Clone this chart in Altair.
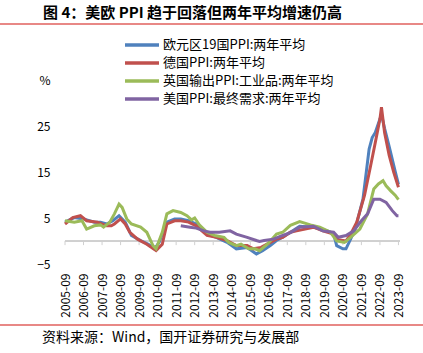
import altair as alt
import pandas as pd

FONT = "Noto Sans CJK SC"
TITLE = "图 4：美欧 PPI 趋于回落但两年平均增速仍高"
SOURCE = "资料来源：Wind，国开证券研究与发展部"

series_names = ["欧元区19国PPI:两年平均", "德国PPI:两年平均",
                "英国输出PPI:工业品:两年平均", "美国PPI:最终需求:两年平均"]
series_colors = ["#4F81BD", "#C0504D", "#9BBB59", "#8064A2"]

eu_dates = ["2005-09", "2006-03", "2006-09", "2007-04", "2007-08", "2007-12", "2008-04", "2008-08",
            "2008-12", "2009-04", "2009-10", "2010-03", "2010-07", "2010-10", "2011-03", "2011-08",
            "2011-12", "2012-05", "2012-10", "2013-05", "2013-11", "2014-06", "2014-12", "2015-07",
            "2016-01", "2016-05", "2016-10", "2017-02", "2017-06", "2017-11", "2018-05", "2019-02",
            "2019-11", "2020-03", "2020-05", "2020-09", "2020-11", "2021-02", "2021-05", "2021-10",
            "2022-02", "2022-04", "2022-06", "2022-09", "2022-10", "2022-12", "2023-03", "2023-07",
            "2023-09"]
eu_vals = [4.1, 5.1, 4.8, 4.1, 4.1, 3.7, 4.4, 5.5,
           4.1, 1.2, 0.1, -0.7, -1.7, -0.3, 4.1, 4.8,
           4.8, 4.4, 3.7, 1.5, 0.8, -0.3, -1.7, -1.4,
           -2.8, -2.1, -1.0, 0.1, 0.8, 1.9, 3.2, 3.0,
           2.2, 1.5, -1.0, -1.7, -1.7, 0.4, 2.6, 9.1,
           20.0, 22.5, 23.6, 26.5, 27.5, 24.5, 20.5, 15.0,
           12.3]

de_dates = ["2005-09", "2006-02", "2006-07", "2006-11", "2007-06", "2007-12", "2008-03", "2008-05",
            "2008-09", "2008-12", "2009-03", "2009-08", "2010-02", "2010-08", "2010-12", "2011-03",
            "2011-08", "2011-12", "2012-05", "2012-10", "2013-05", "2013-11", "2014-06", "2014-12",
            "2015-07", "2015-11", "2016-04", "2016-10", "2017-02", "2017-06", "2017-11", "2018-03",
            "2019-02", "2019-08", "2020-03", "2020-06", "2020-11", "2021-02", "2021-06", "2021-11",
            "2022-03", "2022-06", "2022-09", "2022-10", "2022-12", "2023-03", "2023-06", "2023-09"]
de_vals = [3.7, 5.1, 5.5, 4.4, 4.1, 3.3, 3.3, 3.7,
           4.8, 3.7, 1.9, 0.4, -0.7, -2.1, -0.7, 3.7,
           4.4, 4.4, 4.1, 3.3, 1.2, 0.8, 0.1, -1.0,
           -1.0, -1.7, -1.4, -0.3, 0.4, 0.8, 1.9, 2.2,
           3.0, 2.2, 1.5, 0.3, 0.0, 1.5, 4.1, 9.9,
           16.4, 21.4, 26.5, 29.1, 23.6, 18.6, 14.9, 11.7]

uk_dates = ["2005-09", "2006-03", "2006-08", "2006-11", "2007-04", "2007-08", "2007-10", "2008-02",
            "2008-05", "2008-08", "2008-10", "2009-01", "2009-04", "2009-10", "2010-02", "2010-06",
            "2010-08", "2010-12", "2011-03", "2011-07", "2011-12", "2012-04", "2012-07", "2012-09",
            "2012-12", "2013-05", "2013-10", "2014-04", "2014-07", "2014-12", "2015-03", "2015-08",
            "2015-12", "2016-03", "2016-08", "2016-11", "2017-02", "2017-06", "2017-11", "2018-05",
            "2018-12", "2019-06", "2020-01", "2020-05", "2020-10", "2021-02", "2021-08", "2022-01",
            "2022-05", "2022-08", "2022-11", "2023-01", "2023-04", "2023-07", "2023-09"]
uk_vals = [4.4, 4.1, 4.4, 2.6, 3.3, 3.5, 3.0, 4.1,
           5.9, 8.0, 7.3, 4.8, 3.7, 3.0, 1.9, -1.0,
           -1.7, 1.9, 5.9, 6.6, 6.2, 5.5, 4.6, 5.0,
           3.5, 1.9, 1.2, 0.8, -0.3, -1.0, -0.7, -1.7,
           -1.7, -2.1, -0.7, 0.4, 1.5, 1.9, 3.4, 4.2,
           3.5, 3.0, 1.9, 0.0, -0.3, 0.8, 2.6, 5.9,
           11.3, 12.4, 13.1, 12.0, 10.9, 9.9, 9.0]

us_dates = ["2011-12", "2012-06", "2012-10", "2013-03", "2013-07", "2014-01", "2014-08", "2014-12",
            "2015-07", "2016-01", "2016-03", "2016-06", "2016-12", "2017-06", "2017-11", "2018-05",
            "2019-02", "2019-08", "2020-03", "2020-06", "2020-11", "2021-04", "2021-09", "2022-01",
            "2022-05", "2022-09", "2023-01", "2023-05", "2023-08", "2023-09"]
us_vals = [3.3, 3.0, 2.8, 2.2, 1.9, 1.9, 2.2, 1.5,
           0.8, 0.1, -0.1, 0.1, 0.4, 1.2, 1.8, 3.0,
           3.2, 2.2, 1.9, 0.8, 1.2, 2.2, 4.4, 5.9,
           9.1, 9.1, 8.4, 6.6, 5.5, 5.5]

tick_labels = [f"{y}-09" for y in range(2005, 2024)]
y_ticks = [-5, 5, 15, 25, 35]


def to_t(d):
    y, m = d.split("-")
    return int(y) + (int(m) - 1) / 12.0


rows = []
for name, dates, vals in zip(series_names, [eu_dates, de_dates, uk_dates, us_dates],
                             [eu_vals, de_vals, uk_vals, us_vals]):
    for d, v in zip(dates, vals):
        rows.append({"series": name, "date": d, "t": to_t(d), "v": v})
df = pd.DataFrame(rows)
tick_vals = [to_t(s) for s in tick_labels]
ticks_df = pd.DataFrame({"t": tick_vals, "y0": [0.0] * len(tick_vals),
                         "y1": [-0.9] * len(tick_vals)})

W, H = 335, 184
x_scale = alt.Scale(domain=[to_t("2005-09"), 2023.75], nice=False, zero=False)
y_scale = alt.Scale(domain=[-5, 35], nice=False, zero=False)
color_scale = alt.Scale(domain=series_names, range=series_colors)

x_axis = alt.Axis(values=tick_vals, labelExpr="floor(datum.value + 0.01) + '-09'",
                  labelAngle=-90, labelAlign="right", labelBaseline="middle",
                  labelPadding=9, labelFontSize=12, labelFont=FONT, labelColor="#000",
                  domain=False, ticks=False, grid=False, title=None, labelOverlap=False)
y_axis = alt.Axis(values=y_ticks, labelExpr="datum.value == 35 ? '%' : datum.label",
                  labelFontSize=12, labelFont=FONT, labelColor="#000", labelPadding=15,
                  domain=False, ticks=False, grid=False, title=None)

layers = []
# zero line and ticks
layers.append(alt.Chart(ticks_df).mark_rule(color="#d0d0d0", strokeWidth=1).encode(
    x=alt.value(0), x2=alt.value(W),
    y=alt.Y("y0:Q", scale=y_scale, axis=y_axis)))
layers.append(alt.Chart(ticks_df).mark_rule(color="#d0d0d0", strokeWidth=1).encode(
    x=alt.X("t:Q", scale=x_scale, axis=x_axis),
    y=alt.Y("y0:Q", scale=y_scale, axis=y_axis), y2="y1:Q"))

for i, name in enumerate(series_names):
    legend = None
    if i == 0:
        legend = alt.Legend(orient="none", legendX=58, legendY=-44, title=None,
                            symbolType="stroke", symbolSize=1156, symbolStrokeWidth=3.5,
                            clipHeight=18, rowPadding=0, padding=0, labelOffset=2,
                            labelFontSize=13, labelFont=FONT, labelColor="#000",
                            labelLimit=400)
    layers.append(alt.Chart(df[df.series == name]).mark_line(strokeWidth=3).encode(
        x=alt.X("t:Q", scale=x_scale, axis=x_axis),
        y=alt.Y("v:Q", scale=y_scale, axis=y_axis),
        color=alt.Color("series:N", scale=color_scale, legend=legend),
    ))

title_df = pd.DataFrame({"txt": [TITLE]})
src_df = pd.DataFrame({"txt": [SOURCE]})
layers.append(alt.Chart(title_df).mark_text(align="left", baseline="middle", fontSize=15,
                                            fontWeight="bold", font=FONT, color="#000").encode(
    x=alt.value(-22), y=alt.value(-67), text="txt:N"))
layers.append(alt.Chart(src_df).mark_text(align="left", baseline="middle", fontSize=14,
                                          font=FONT, color="#000").encode(
    x=alt.value(-23), y=alt.value(258), text="txt:N"))
layers.append(alt.Chart(title_df).mark_rule(color="#E0605E", strokeWidth=1.5).encode(
    x=alt.value(-65), x2=alt.value(358), y=alt.value(-56)))
layers.append(alt.Chart(src_df).mark_rule(color="#E0605E", strokeWidth=1.5).encode(
    x=alt.value(-65), x2=alt.value(358), y=alt.value(245)))

chart = alt.layer(*layers).properties(
    width=W, height=H,
    autosize=alt.AutoSizeParams(type="none"),
    padding={"left": 65, "top": 80, "right": 23, "bottom": 89},
    background="white",
).configure_view(stroke=None)

chart.save("out.html", embed_options={"renderer": "svg", "actions": False})
